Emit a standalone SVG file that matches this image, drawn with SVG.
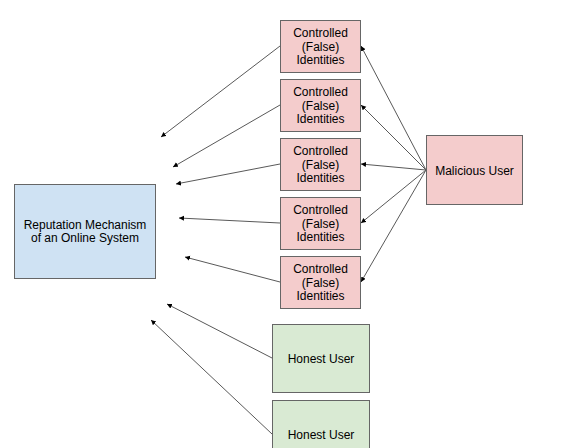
<svg xmlns="http://www.w3.org/2000/svg" width="568" height="448" viewBox="0 0 568 448">
<style>
.bad{fill:#f4cccc;stroke:#666666;stroke-width:1}
.rep{fill:#cfe2f3;stroke:#666666;stroke-width:1}
.hon{fill:#d9ead3;stroke:#666666;stroke-width:1}
text{font-family:"Liberation Sans",Arial,sans-serif;font-size:12px;fill:#000;text-anchor:middle}
.c path{fill:none;stroke:#595959;stroke-width:1;marker-end:url(#ah)}
</style>
<defs>
<marker id="ah" markerUnits="userSpaceOnUse" markerWidth="8" markerHeight="6" refX="5" refY="2.5" orient="auto">
<path d="M0,0 L5,2.5 L0,5 Z" fill="#000"/>
</marker>
</defs>
<rect width="568" height="448" fill="#fff"/>
<g id="rep"><rect class="rep" x="14.5" y="184.5" width="141" height="94"/><text x="85" y="228.5">Reputation Mechanism</text><text x="85" y="242.3">of an Online System</text></g>
<g id="ci1"><rect class="bad" x="280.5" y="20.5" width="80" height="52"/><text x="320.5" y="36.7">Controlled</text><text x="320.5" y="50.5">(False)</text><text x="320.5" y="64.3">Identities</text></g>
<g id="ci2"><rect class="bad" x="280.5" y="79.5" width="80" height="52"/><text x="320.5" y="95.7">Controlled</text><text x="320.5" y="109.5">(False)</text><text x="320.5" y="123.3">Identities</text></g>
<g id="ci3"><rect class="bad" x="280.5" y="138.5" width="80" height="52"/><text x="320.5" y="154.7">Controlled</text><text x="320.5" y="168.5">(False)</text><text x="320.5" y="182.3">Identities</text></g>
<g id="ci4"><rect class="bad" x="280.5" y="197.5" width="80" height="52"/><text x="320.5" y="213.7">Controlled</text><text x="320.5" y="227.5">(False)</text><text x="320.5" y="241.3">Identities</text></g>
<g id="ci5"><rect class="bad" x="280.5" y="256.5" width="80" height="52"/><text x="320.5" y="272.7">Controlled</text><text x="320.5" y="286.5">(False)</text><text x="320.5" y="300.3">Identities</text></g>
<g id="mal"><rect class="bad" x="426.5" y="135.5" width="96" height="69"/><text x="474.5" y="174.5">Malicious User</text></g>
<g id="hon1"><rect class="hon" x="272.5" y="324.5" width="97" height="68"/><text x="321" y="362.5">Honest User</text></g>
<g id="hon2"><rect class="hon" x="272.5" y="400.5" width="97" height="68"/><text x="321" y="438.5">Honest User</text></g>
<g class="c" id="connectors">
<path d="M280,46 L161,137"/>
<path d="M280,105 L173,167"/>
<path d="M280,164 L176,184"/>
<path d="M280,223 L179,218"/>
<path d="M280,282 L185,257"/>
<path d="M272,358 L167,304"/>
<path d="M272,434 L151,320"/>
<path d="M426,170 L361,46"/>
<path d="M426,170 L361,105"/>
<path d="M426,170 L361,164"/>
<path d="M426,170 L361,223"/>
<path d="M426,170 L361,282"/>
</g>
</svg>
